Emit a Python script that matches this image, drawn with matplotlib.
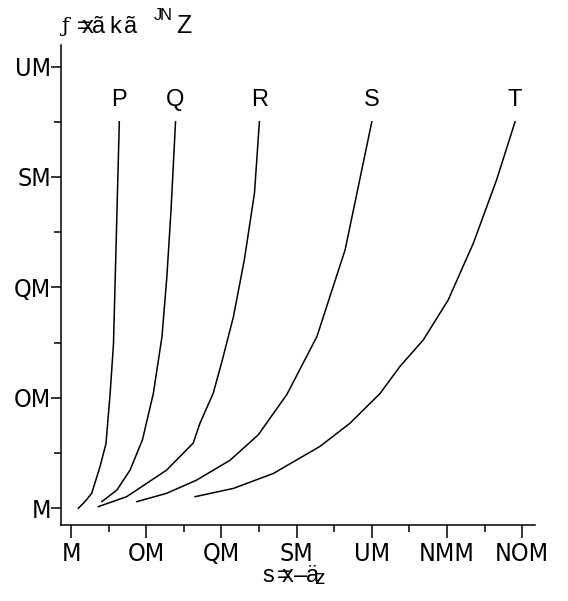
import matplotlib.pyplot as plt
from matplotlib import font_manager

W, H = 568, 601

# tick values and the labels as they are printed
x_ticks = [0, 20, 40, 60, 80, 100, 120]
x_tick_labels = ["M", "OM", "QM", "SM", "UM", "NMM", "NOM"]
y_ticks = [0, 20, 40, 60, 80]
y_tick_labels = ["M", "OM", "QM", "SM", "UM"]

curve_names = ["P", "Q", "R", "S", "T"]
curve_p_x = [1.95, 3.7, 5.5, 7.7, 9.3, 10.4, 11.3, 12.0, 12.85]
curve_p_y = [0.0, 1.2, 2.7, 7.5, 11.7, 20.7, 29.8, 47.9, 70.0]
curve_q_x = [8.2, 12.2, 15.7, 19.0, 21.9, 24.2, 25.5, 26.6, 27.8]
curve_q_y = [1.2, 3.3, 6.9, 12.4, 20.8, 31.1, 42.0, 54.0, 70.0]
curve_r_x = [7.3, 14.8, 25.4, 32.5, 34.3, 37.8, 40.0, 43.2, 46.1, 48.8, 50.1]
curve_r_y = [0.3, 2.1, 6.9, 11.8, 15.4, 20.8, 26.2, 34.7, 45.0, 57.1, 70.0]
curve_s_x = [17.5, 25.4, 33.4, 42.3, 49.8, 57.4, 65.4, 72.9, 80.0]
curve_s_y = [1.2, 2.7, 5.1, 8.7, 13.3, 20.6, 31.1, 46.8, 70.0]
curve_t_x = [33.0, 43.2, 53.8, 66.2, 74.2, 82.2, 87.5, 93.7, 100.3, 107.0, 113.2, 118.1]
curve_t_y = [2.1, 3.6, 6.3, 11.2, 15.4, 20.8, 25.7, 30.5, 37.7, 48.0, 59.5, 70.0]

curves_x = [curve_p_x, curve_q_x, curve_r_x, curve_s_x, curve_t_x]
curves_y = [curve_p_y, curve_q_y, curve_r_y, curve_s_y, curve_t_y]

plt.rcParams['font.family'] = ['Liberation Sans', 'DejaVu Sans']

# pick a narrow face for the tick labels if one is installed
tick_font = font_manager.FontProperties(family='Liberation Sans')
for fam, stretch in [('Liberation Sans Narrow', 'normal'),
                     ('Liberation Sans', 'condensed'),
                     ('DejaVu Sans', 'condensed')]:
    try:
        fp = font_manager.FontProperties(family=fam, stretch=stretch)
        path = font_manager.findfont(fp, fallback_to_default=False)
    except ValueError:
        continue
    if 'Narrow' in path or 'Condensed' in path:
        tick_font = font_manager.FontProperties(fname=path)
        break
tick_font.set_size(18)

fig = plt.figure(figsize=(W / 100, H / 100), dpi=100)
ax = fig.add_axes([61 / W, 1 - 525 / H, (535 - 61) / W, (525 - 45) / H])

for xs, ys, name in zip(curves_x, curves_y, curve_names):
    ax.plot(xs, ys, color='black', lw=1.1)
    ax.text(xs[-1], ys[-1] + 4.0, name, ha='center', va='center', fontsize=17)

ax.set_xlim(-2.66, 123.4)
ax.set_ylim(-3.03, 83.9)
ax.set_xticks(x_ticks)
ax.set_xticklabels(x_tick_labels, fontproperties=tick_font)
ax.set_yticks(y_ticks)
ax.set_yticklabels(y_tick_labels, fontproperties=tick_font)
ax.set_xticks(range(10, 121, 20), minor=True)
ax.set_yticks(range(10, 80, 20), minor=True)

for side in ['top', 'right']:
    ax.spines[side].set_visible(False)
for side in ['left', 'bottom']:
    ax.spines[side].set_linewidth(1.1)

ax.tick_params(axis='x', which='major', direction='out', length=9, width=1.1, pad=3)
ax.tick_params(axis='x', which='minor', direction='out', length=5, width=1.1)
ax.tick_params(axis='y', which='major', direction='out', length=7, width=1.1, pad=0)
ax.tick_params(axis='y', which='minor', direction='out', length=5, width=1.1)


def put(px, py, s, **kw):
    # place a piece of text at a pixel position of the figure
    fig.text(px / W, 1 - py / H, s, ha='left', va='center', **kw)


# y axis title pieces
put(62, 27, "ƒ", fontsize=15, family='DejaVu Serif', fontweight='light')
put(77, 27, "=", fontsize=17)
put(82, 27, "x", fontsize=17)
put(92, 27, "ã", fontsize=17)
put(109, 27, "k", fontsize=17)
put(124, 27, "ã", fontsize=17)
put(154, 15, "J", fontsize=12)
put(160, 15, "N", fontsize=12)
put(176, 26, "Z", fontsize=18)

# x axis title pieces
put(262, 576, "s", fontsize=17)
put(277, 576, "=", fontsize=17)
put(282, 576, "x", fontsize=17)
put(294, 576, "–", fontsize=17)
put(306, 576, "ä", fontsize=17)
put(314, 578, "z", fontsize=15)

fig.savefig("out.png", dpi=100)
